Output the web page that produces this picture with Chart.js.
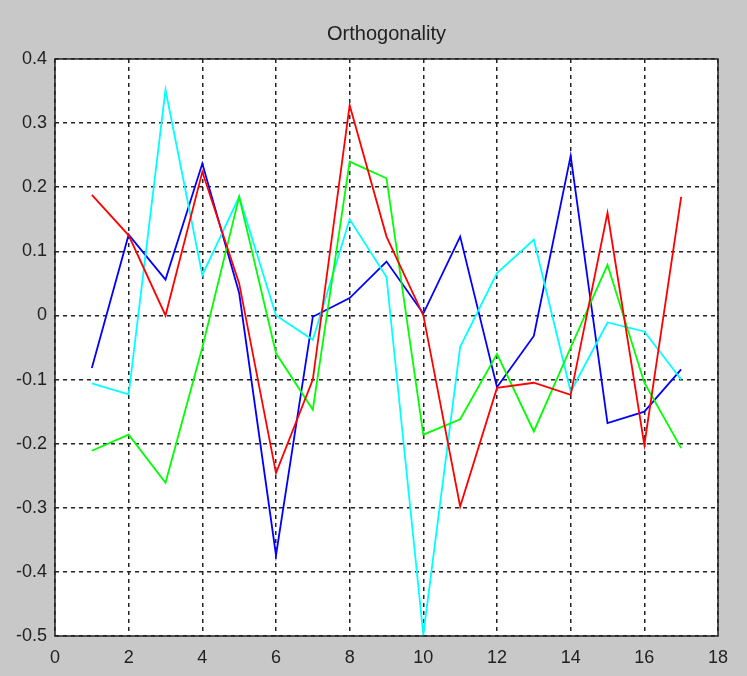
<!DOCTYPE html>
<html>
<head>
<meta charset="utf-8">
<title>Orthogonality</title>
<script src="https://cdn.jsdelivr.net/npm/chart.js@4/dist/chart.umd.min.js"></script>
<style>
    html, body { margin: 0; padding: 0; background: #c8c8c8; }
    #wrap { width: 747px; height: 676px; }
</style>
</head>
<body>
<div id="wrap"><canvas id="orthoChart" width="747" height="676"></canvas></div>
<script>
    // sample index 1..17
    var xs = [1, 2, 3, 4, 5, 6, 7, 8, 9, 10, 11, 12, 13, 14, 15, 16, 17];

    // one series per colour
    var redVals   = [0.188, 0.125, 0.0, 0.224, 0.05, -0.246, -0.10, 0.328, 0.123, 0.0, -0.298, -0.113, -0.105, -0.124, 0.16, -0.202, 0.185];
    var greenVals = [-0.211, -0.186, -0.261, -0.05, 0.185, -0.059, -0.147, 0.24, 0.214, -0.186, -0.162, -0.06, -0.181, -0.05, 0.079, -0.105, -0.207];
    var cyanVals  = [-0.106, -0.123, 0.352, 0.063, 0.185, 0.0, -0.038, 0.15, 0.06, -0.498, -0.049, 0.066, 0.118, -0.119, -0.011, -0.025, -0.10];
    var blueVals  = [-0.082, 0.126, 0.056, 0.237, 0.035, -0.374, -0.002, 0.027, 0.084, 0.003, 0.123, -0.112, -0.032, 0.249, -0.168, -0.15, -0.084];

    // axis ticks
    var xTicks = [0, 2, 4, 6, 8, 10, 12, 14, 16, 18];
    var yTicks = [-0.5, -0.4, -0.3, -0.2, -0.1, 0, 0.1, 0.2, 0.3, 0.4];

    function toPoints(vals) {
        return vals.map(function (v, i) { return {x: xs[i], y: v}; });
    }

    function lineSet(vals, color) {
        return {
            data: toPoints(vals),
            borderColor: color,
            borderWidth: 1.8,
            pointRadius: 0,
            tension: 0,
            fill: false
        };
    }

    // grey figure, white axes box, black frame
    var frame = {
        id: 'frame',
        beforeDraw: function (chart) {
            var c = chart.ctx, a = chart.chartArea;
            c.save();
            c.fillStyle = '#c8c8c8';
            c.fillRect(0, 0, chart.width, chart.height);
            c.fillStyle = '#ffffff';
            c.fillRect(a.left, a.top, a.right - a.left, a.bottom - a.top);
            c.restore();
        },
        afterDraw: function (chart) {
            var c = chart.ctx, a = chart.chartArea;
            c.save();
            c.strokeStyle = '#222';
            c.lineWidth = 1.5;
            c.strokeRect(a.left, a.top, a.right - a.left, a.bottom - a.top);
            c.restore();
        }
    };

    // dotted matlab-style grid
    var gridOpts = {
        color: '#222',
        lineWidth: 1.5,
        drawTicks: false
    };
    var borderOpts = { display: false, dash: [4, 4] };

    var ctx = document.getElementById('orthoChart');
    var orthoChart = new Chart(ctx, {
        type: 'line',
        data: {
            datasets: [
                lineSet(redVals, '#ff0000'),
                lineSet(greenVals, '#00ff00'),
                lineSet(cyanVals, '#00ffff'),
                lineSet(blueVals, '#0000ff')
            ]
        },
        options: {
            responsive: false,
            animation: false,
            layout: { padding: { left: 0, right: 29, top: 0, bottom: 0 } },
            plugins: {
                legend: { display: false },
                tooltip: { enabled: false },
                title: {
                    display: true,
                    fullSize: false,   // centre over the axes box, not the figure
                    text: 'Orthogonality',
                    color: '#222',
                    font: { family: 'Liberation Sans', size: 20, weight: 'normal' },
                    padding: { top: 22, bottom: 13 }
                }
            },
            scales: {
                x: {
                    type: 'linear',
                    min: xTicks[0],
                    max: xTicks[xTicks.length - 1],
                    afterBuildTicks: function (s) { s.ticks = xTicks.map(function (v) { return {value: v}; }); },
                    grid: gridOpts,
                    border: borderOpts,
                    ticks: {
                        color: '#222',
                        padding: 11,
                        maxRotation: 0,
                        font: { family: 'Liberation Sans', size: 18 },
                        callback: function (v) { return String(v); }
                    },
                    afterFit: function (s) { s.height = 40; }
                },
                y: {
                    min: yTicks[0],
                    max: yTicks[yTicks.length - 1],
                    afterBuildTicks: function (s) { s.ticks = yTicks.map(function (v) { return {value: v}; }); },
                    grid: gridOpts,
                    border: borderOpts,
                    ticks: {
                        color: '#222',
                        padding: 8,
                        font: { family: 'Liberation Sans', size: 18 },
                        callback: function (v) { return String(parseFloat(v.toFixed(1))); }
                    },
                    afterFit: function (s) { s.width = 55; }
                }
            }
        },
        plugins: [frame]
    });
</script>
</body>
</html>
